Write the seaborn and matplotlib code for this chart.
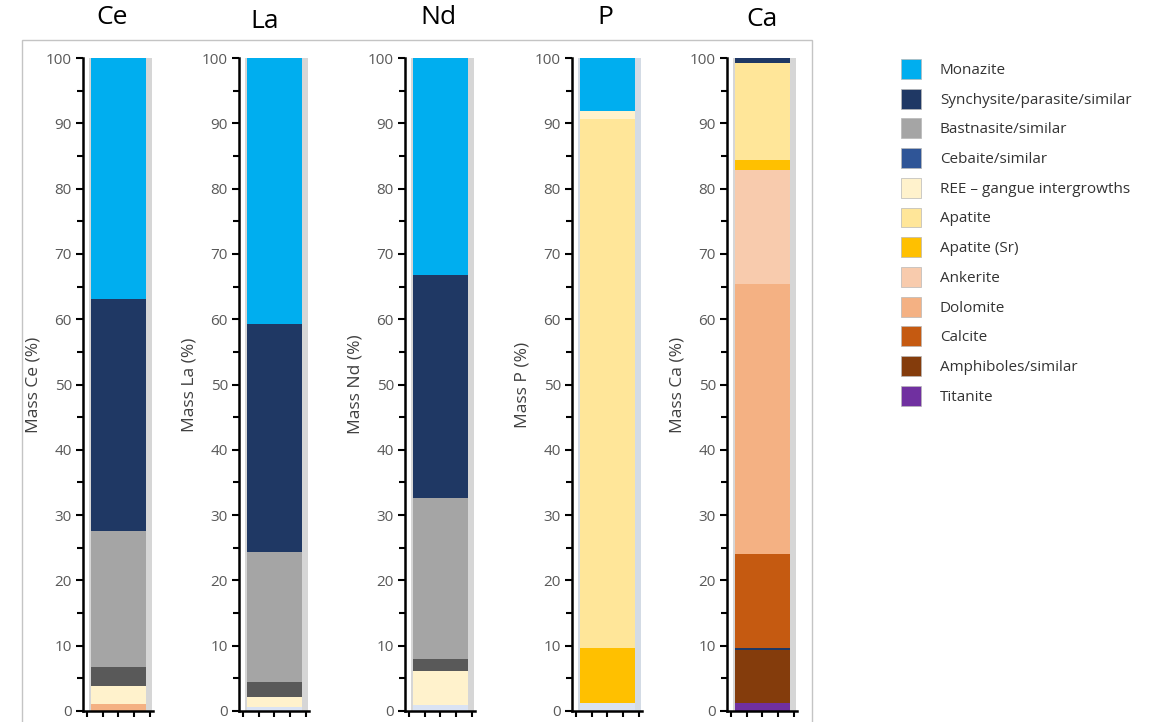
import numpy as np
import pandas as pd
import seaborn as sns
import matplotlib.pyplot as plt
from matplotlib.patches import Patch, Rectangle
from matplotlib.ticker import MultipleLocator

# elements shown, one column each
elements = ['Ce', 'La', 'Nd', 'P', 'Ca']

# legend entries and colours
legend_names = ['Monazite', 'Synchysite/parasite/similar', 'Bastnasite/similar',
                'Cebaite/similar', 'REE – gangue intergrowths', 'Apatite',
                'Apatite (Sr)', 'Ankerite', 'Dolomite', 'Calcite',
                'Amphiboles/similar', 'Titanite']
legend_colors = ['#00aeef', '#1f3864', '#a5a5a5', '#2f5597', '#fff2cc', '#ffe699',
                 '#ffc000', '#f8cbad', '#f4b183', '#c55a11', '#843c0c', '#7030a0']
# two classes that show up in the bars but have no legend entry
extra_names = ['Other REE minerals', 'Unclassified']
extra_colors = ['#595959', '#dae3f3']

# stacks from bottom to top, mass %
ce_minerals = ['Dolomite', 'REE – gangue intergrowths', 'Other REE minerals',
               'Bastnasite/similar', 'Synchysite/parasite/similar', 'Monazite']
ce_mass = [1.0, 2.8, 2.9, 20.8, 35.6, 36.9]

la_minerals = ['Unclassified', 'REE – gangue intergrowths', 'Other REE minerals',
               'Bastnasite/similar', 'Synchysite/parasite/similar', 'Monazite']
la_mass = [0.6, 1.5, 2.4, 19.8, 34.9, 40.8]

nd_minerals = ['Unclassified', 'REE – gangue intergrowths', 'Other REE minerals',
               'Bastnasite/similar', 'Synchysite/parasite/similar', 'Monazite']
nd_mass = [0.9, 5.3, 1.7, 24.7, 34.2, 33.2]

p_minerals = ['Unclassified', 'Apatite (Sr)', 'Apatite', 'REE – gangue intergrowths',
              'Monazite']
p_mass = [1.3, 8.3, 81.0, 1.3, 8.1]

ca_minerals = ['Titanite', 'Amphiboles/similar', 'Synchysite/parasite/similar', 'Calcite',
               'Dolomite', 'Ankerite', 'Apatite (Sr)', 'Apatite',
               'Synchysite/parasite/similar']
ca_mass = [1.2, 8.1, 0.4, 14.3, 41.4, 17.4, 1.6, 14.8, 0.8]

stacks = {'Ce': (ce_minerals, ce_mass), 'La': (la_minerals, la_mass),
          'Nd': (nd_minerals, nd_mass), 'P': (p_minerals, p_mass),
          'Ca': (ca_minerals, ca_mass)}

palette = dict(zip(legend_names + extra_names, legend_colors + extra_colors))

sns.set_style('white')
plt.rcParams['font.family'] = ['Open Sans', 'DejaVu Sans']

W, H = 1152, 722
fig = plt.figure(figsize=(W / 100, H / 100), dpi=100)

# layout in pixels
bar_left = [91, 247, 413, 580, 735]
title_xy = [(112, 18), (265, 22), (438, 18), (605, 18), (762, 20)]
shade = ['#d6d6d6', '#d6d6d6', '#d6d6d6', '#d3dbe5', '#d6d6d6']

# outer frame of the original graphic
fig.add_artist(Rectangle((22 / W, -0.02), (812 - 22) / W, (H - 40) / H + 0.02,
                         transform=fig.transFigure, fill=False,
                         edgecolor='#c4c4c4', linewidth=1))

for k, el in enumerate(elements):
    minerals, mass = stacks[el]
    ax = fig.add_axes([(bar_left[k] - 8) / W, 11 / H, 70 / W, 653 / H])
    ax.axvspan(-0.536, 0.609, color=shade[k], lw=0, zorder=0)

    tops = np.cumsum(mass)
    # overlay cumulative bars, tallest first
    for i in reversed(range(len(minerals))):
        df = pd.DataFrame({'element': [el], 'top': [tops[i]]})
        sns.barplot(data=df, x='element', y='top', color=palette[minerals[i]],
                    saturation=1, width=1, linewidth=0, errorbar=None, ax=ax)

    ax.set_xlim(-0.645, 0.627)
    ax.set_ylim(0, 100)
    ax.set_facecolor('none')
    for s in ['top', 'right']:
        ax.spines[s].set_visible(False)
    for s in ['left', 'bottom']:
        ax.spines[s].set_color('black')
        ax.spines[s].set_linewidth(1.8)

    ax.yaxis.set_major_locator(MultipleLocator(10))
    ax.yaxis.set_minor_locator(MultipleLocator(5))
    ax.tick_params(axis='y', which='major', direction='out', length=5, width=1.5,
                   color='black', labelsize=11, labelcolor='#595959', pad=3, left=True)
    ax.tick_params(axis='y', which='minor', direction='out', length=4, width=1.5,
                   color='black', left=True)
    ax.set_xticks([-0.58, -0.29, 0, 0.29, 0.58])
    ax.set_xticklabels([])
    ax.tick_params(axis='x', direction='out', length=4, width=1.5, color='black',
                   bottom=True)
    ax.set_xlabel('')
    ax.set_ylabel(f'Mass {el} (%)', fontsize=12.5, color='#404040', labelpad=3)

    fig.text(title_xy[k][0] / W, 1 - title_xy[k][1] / H, el, fontsize=19,
             ha='center', va='center', color='black')

handles = [Patch(facecolor=c, edgecolor='#b8b8b8', linewidth=0.5) for c in legend_colors]
leg = fig.legend(handles, legend_names, loc='upper left',
                 bbox_to_anchor=(901 / W, 1 - 59 / H), frameon=False, fontsize=11,
                 handlelength=1.31, handleheight=1.63, handletextpad=1.24,
                 labelspacing=0.64, borderpad=0, borderaxespad=0)
for t in leg.get_texts():
    t.set_color('#333333')

fig.savefig('out.png', dpi=100)
